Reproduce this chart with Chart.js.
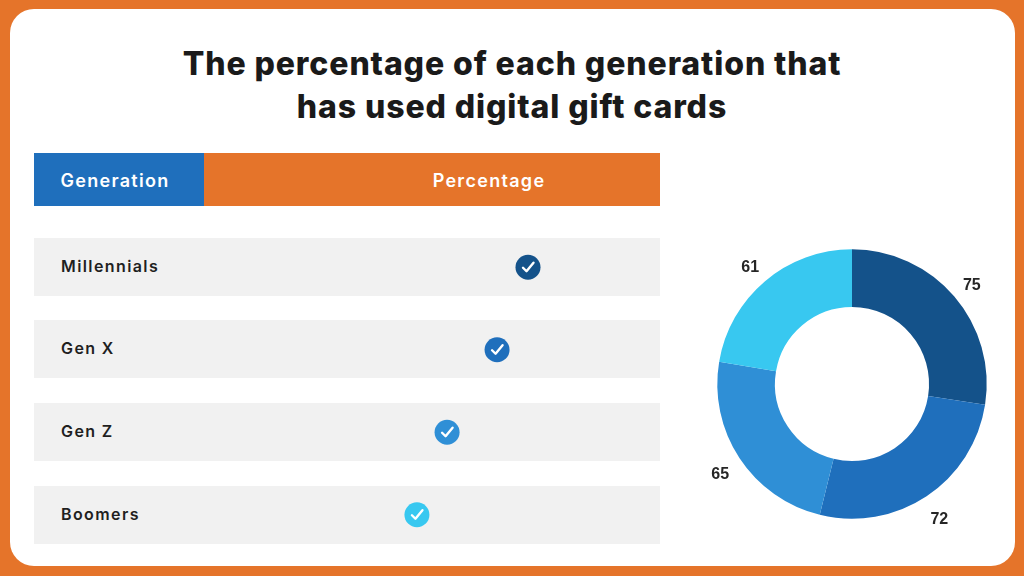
<!DOCTYPE html>
<html>
<head>
<meta charset="utf-8">
<title>Digital gift cards</title>
<script src="https://cdn.jsdelivr.net/npm/chart.js@4"></script>
<style>
  html, body { margin: 0; padding: 0; }
  body { width: 1024px; height: 576px; background: #e5742a; position: relative; overflow: hidden; font-family: Inter, sans-serif; }
  .panel { position: absolute; left: 10px; top: 9px; width: 1005px; height: 557px; background: #fff; border-radius: 24px; }
  h1 { position: absolute; left: 0; top: 43px; width: 1024px; margin: 0; text-align: center; font-size: 32px; line-height: 42.5px; font-weight: 800; color: #1a1a1a; letter-spacing: 0.9px; }
  .head { position: absolute; top: 153px; height: 52.5px; line-height: 55px; color: #fff; font-size: 18px; font-weight: 600; text-align: center; letter-spacing: 1.3px; }
  .row { position: absolute; left: 34px; width: 626px; height: 58px; background: #f1f1f1; color: #1f1f1f; font-size: 16px; font-weight: 600; line-height: 56px; text-indent: 27px; letter-spacing: 1.4px; }
  canvas { position: absolute; }
</style>
</head>
<body>
<div class="panel"></div>
<h1 id="title"></h1>
<div class="head" id="head0" style="left:34px;width:170px;background:#1f6fbc;text-indent:-8px"></div>
<div class="head" id="head1" style="left:204px;width:456px;background:#e5742a;text-indent:114px"></div>
<div id="rows"></div>
<canvas id="dots" width="476" height="330" style="left:171px;top:226px"></canvas>
<canvas id="donut" width="330" height="336" style="left:687px;top:216px"></canvas>

<script>
const titleLines = ['The percentage of each generation that', 'has used digital gift cards'];
const columns = ['Generation', 'Percentage'];
const generations = ['Millennials', 'Gen X', 'Gen Z', 'Boomers'];
const percentages = [75, 72, 65, 61];
// where the ticks sit along the row
const checkValues = [75, 71.1, 64.8, 61];
const colors = ['#14528a', '#1f6fbc', '#2f8fd6', '#38c8f0'];
const rowTops = [238, 320, 403, 486];

document.getElementById('title').innerHTML = titleLines.join('<br>');
document.getElementById('head0').textContent = columns[0];
document.getElementById('head1').textContent = columns[1];
generations.forEach(function (name, i) {
  let row = document.createElement('div');
  row.className = 'row';
  row.style.top = rowTops[i] + 'px';
  row.textContent = name;
  document.getElementById('rows').appendChild(row);
});

// white tick on top of every circle
const tickPlugin = {
  id: 'ticks',
  afterDatasetsDraw(chart) {
    const ctx = chart.ctx;
    ctx.save();
    ctx.strokeStyle = '#fff';
    ctx.lineWidth = 2.4;
    ctx.lineCap = 'round';
    ctx.lineJoin = 'round';
    chart.getDatasetMeta(0).data.forEach(function (pt) {
      ctx.beginPath();
      ctx.moveTo(pt.x - 5, pt.y + 0.5);
      ctx.lineTo(pt.x - 1.5, pt.y + 4);
      ctx.lineTo(pt.x + 5.5, pt.y - 4.5);
      ctx.stroke();
    });
    ctx.restore();
  }
};

// numbers outside the ring
const outsideLabels = {
  id: 'outsideLabels',
  afterDatasetsDraw(chart) {
    const ctx = chart.ctx;
    ctx.save();
    ctx.font = 'bold 16px "Liberation Sans"';
    ctx.fillStyle = '#262626';
    ctx.textAlign = 'center';
    ctx.textBaseline = 'middle';
    chart.getDatasetMeta(0).data.forEach(function (arc, i) {
      const p = arc.getProps(['x', 'y', 'startAngle', 'endAngle', 'outerRadius']);
      const mid = (p.startAngle + p.endAngle) / 2;
      const r = p.outerRadius + 23;
      ctx.fillText(percentages[i], p.x + Math.cos(mid) * r, p.y + Math.sin(mid) * r + 4.5);
    });
    ctx.restore();
  }
};

new Chart(document.getElementById('dots'), {
  type: 'line',
  data: {
    labels: generations,
    datasets: [{
      data: checkValues,
      showLine: false,
      pointRadius: 12.5,
      pointBorderWidth: 0,
      pointBackgroundColor: colors
    }]
  },
  options: {
    indexAxis: 'y',
    responsive: false,
    animation: false,
    layout: { padding: 0, autoPadding: false },
    plugins: { legend: { display: false }, tooltip: { enabled: false } },
    scales: {
      x: { type: 'linear', min: 30, max: 90, display: false },
      y: { type: 'category', offset: true, display: false }
    }
  },
  plugins: [tickPlugin]
});

new Chart(document.getElementById('donut'), {
  type: 'doughnut',
  data: {
    labels: generations,
    datasets: [{
      data: percentages,
      backgroundColor: colors,
      borderWidth: 0
    }]
  },
  options: {
    responsive: false,
    animation: false,
    radius: 134.7,
    cutout: '57.2%',
    plugins: { legend: { display: false }, tooltip: { enabled: false } }
  },
  plugins: [outsideLabels]
});
</script>
</body>
</html>
